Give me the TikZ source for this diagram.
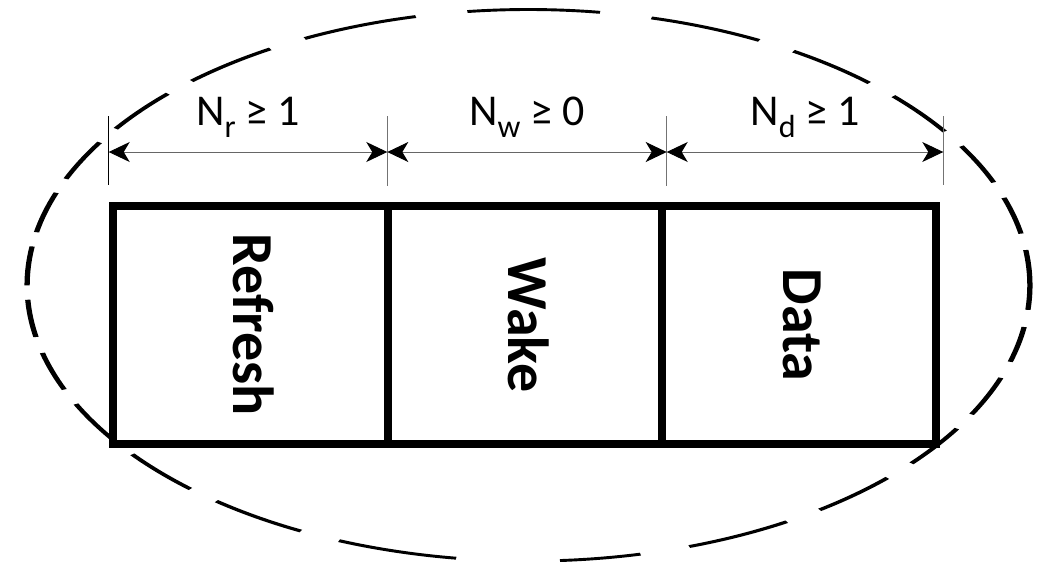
\documentclass[tikz,border=0pt]{standalone}
\usepackage{fontspec}
\setmainfont{Carlito}
\usetikzlibrary{arrows.meta}
\newcommand\lowsub[1]{\raisebox{-12pt}{\fontsize{32}{32}\selectfont #1}}
\begin{document}
\begin{tikzpicture}[x=1pt,y=1pt,
  cell/.style={draw=black, line width=8pt, minimum height=237.5pt, inner sep=0pt, outer sep=0pt},
  celltext/.style={font=\fontsize{58}{60}\selectfont\bfseries, rotate=-90, anchor=base, inner sep=0pt},
  dimlabel/.style={font=\fontsize{44}{48}\selectfont, anchor=base, inner sep=0pt},
  extline/.style={draw=black!55, line width=1pt},
  dimline/.style={draw=black!60, line width=1pt,
    {Stealth[length=21pt,width=20pt,inset=6pt,color=black]}-{Stealth[length=21pt,width=20pt,inset=6pt,color=black]}},
  ovaldash/.style={line width=2.9pt, draw=black}
]
\useasboundingbox (0,0) rectangle (1043,-563);

% dashed oval (a horizontally stretched circle)
\begin{scope}[transform canvas={shift={(528.5,-285.3)}, xscale=1.818}]
  \foreach \a/\b in {-5.1/7.35, 10.8/18.5, 21.9/30.3, 33.9/43.3, 47.2/58.1,
      62.6/75.8, 81.8/97.0, 103.0/116.5, 121.0/132.2, 136.0/145.4,
      148.8/157.3, 160.4/168.9, 171.9/180, 183/190.8, 194.2/202.2,
      205.5/214.7, 217.8/227.6, 231.5/243.0, 247.8/261.7, 273.6/282.9,
      288.7/301.0, 305.5/315.7, 319.8/328.7, 332.1/340.4, 343.9/351.3}
    \draw[ovaldash] (\a:275.8) arc[start angle=\a, end angle=\b, radius=275.8];
\end{scope}

% cells
\node[cell, minimum width=274.5pt] (refresh) at (250.25,-324.75) {};
\node[cell, minimum width=274pt] (wake) at (524.5,-324.75) {};
\node[cell, minimum width=274pt] (data) at (798.5,-324.75) {};

\node[celltext] (trefresh) at (233,-325) {Refresh};
\node[celltext] (twake) at (508.5,-325) {Wake};
\node[celltext] (tdata) at (783,-325) {Data};

% extension lines
\coordinate (e1t) at (108.7,-116); \coordinate (e1b) at (108.7,-185);
\coordinate (e2t) at (387.3,-116); \coordinate (e2b) at (387.3,-186);
\coordinate (e3t) at (666.7,-116); \coordinate (e3b) at (666.7,-186);
\coordinate (e4t) at (943.3,-116); \coordinate (e4b) at (943.3,-185);
\draw[extline, draw=black] (e1t) -- (e1b);
\draw[extline] (e2t) -- (e2b);
\draw[extline] (e3t) -- (e3b);
\draw[extline] (e4t) -- (e4b);

% dimension arrows
\coordinate (a1) at (108.7,-152);
\coordinate (a2) at (387.3,-152);
\coordinate (a3) at (666.7,-152);
\coordinate (a4) at (943.3,-152);
\draw[dimline] (a1) -- (a2);
\draw[dimline] (a2) -- (a3);
\draw[dimline] (a3) -- (a4);

% labels
\node[dimlabel] (lr) at (248,-125) {N\lowsub{r} ≥ 1};
\node[dimlabel] (lw) at (527,-125) {N\lowsub{w} ≥ 0};
\node[dimlabel] (ld) at (805,-125) {N\lowsub{d} ≥ 1};
\end{tikzpicture}
\end{document}
